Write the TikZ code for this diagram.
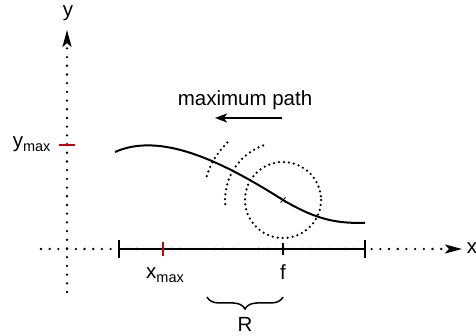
\documentclass[tikz,border=0pt]{standalone}
\usepackage{fontspec}
\setmainfont{Liberation Sans}
\usetikzlibrary{arrows.meta,decorations.pathreplacing}
\definecolor{TickRed}{HTML}{CC0000}
\newcommand\lowtext[1]{\raisebox{-0.35ex}{\fontsize{14.5}{16}\selectfont #1}}
\tikzset{
  axisdots/.style={line width=2.6pt, line cap=round, dash pattern=on 0pt off 8.7pt},
  axisarrow/.style={axisdots, -{Stealth[length=17pt,width=9pt,inset=4pt]}},
  ringdots/.style={line width=2.5pt, line cap=round, dash pattern=on 0pt off 5pt},
  segline/.style={line width=1.5pt},
  tickline/.style={line width=2pt},
  curveline/.style={line width=2pt},
  patharrow/.style={line width=2pt, -{Stealth[length=12pt,width=9pt,inset=3pt]}},
}
\begin{document}
\begin{tikzpicture}[x=1pt, y=-1pt, every node/.style={font=\fontsize{20.5}{24}\selectfont}]
  \useasboundingbox (0,0) rectangle (476,336);
  \coordinate (xstart) at (41,249);
  \coordinate (xend) at (462,249);
  \coordinate (ystart) at (67,292);
  \coordinate (yend) at (67,30);
  \draw[axisarrow] (xstart) -- (xend);
  \draw[axisarrow] (ystart) -- (yend);
  \node (xlabel) at (472,248) {x};
  \node (ylabel) at (68,13) {y};
  \coordinate (a) at (119,249);
  \coordinate (b) at (365,249);
  \coordinate (f) at (283,249);
  \coordinate (xmax) at (163,249);
  \coordinate (ymax) at (67,145);
  \draw[segline] (a) -- (b);
  \foreach \p in {a,b}
    \draw[tickline] ([yshift=-9pt]\p) -- ([yshift=9pt]\p);
  \draw[tickline] ([yshift=-6pt]f) -- ([yshift=6pt]f);
  \draw[tickline, TickRed] ([yshift=-7pt]xmax) -- ([yshift=7pt]xmax);
  \draw[tickline, TickRed] ([xshift=-8pt]ymax) -- ([xshift=8pt]ymax);
  \node (xmaxlabel) at (165,275) {x\lowtext{max}};
  \node (flabel) at (283,272) {f};
  \node[anchor=east] (ymaxlabel) at (54,144) {y\lowtext{max}};
  \coordinate (c) at (283,200);
  \draw[curveline] (115,152) .. controls (160,132) and (220,160) .. (c)
    .. controls (320,222) and (340,223) .. (365,223);
  \draw[ringdots] (c) circle (38);
  \draw[ringdots] (c) ++(250:58) arc (250:173:58);
  \draw[ringdots] (c) ++(226:80) arc (226:194:80);
  \draw[line width=1pt] ([shift={(-2.5pt,-2.5pt)}]c) -- ([shift={(2.5pt,2.5pt)}]c)
    ([shift={(-2.5pt,2.5pt)}]c) -- ([shift={(2.5pt,-2.5pt)}]c);
  \coordinate (p1) at (282,118);
  \coordinate (p2) at (215,118);
  \draw[patharrow] (p1) -- (p2);
  \node (pathlabel) at (245,100) {maximum path};
  \coordinate (r1) at (207,297);
  \coordinate (r2) at (283,297);
  \draw[line width=1.5pt, decorate, decoration={brace, amplitude=12pt, mirror}] (r1) -- (r2);
  \node (rlabel) at (245,324) {R};
\end{tikzpicture}
\end{document}
